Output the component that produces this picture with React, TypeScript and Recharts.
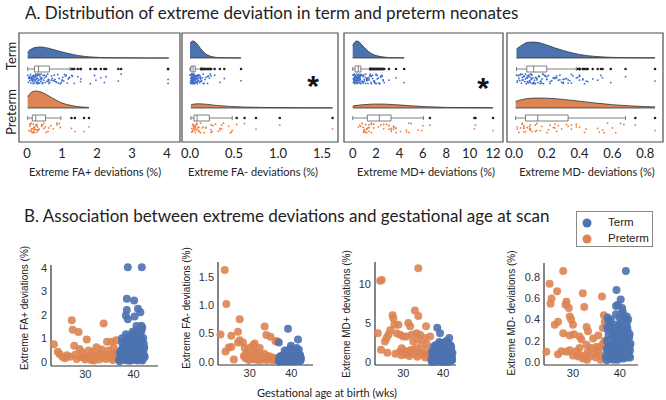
import React from "react";
import {
  ComposedChart,
  ScatterChart,
  Scatter,
  Area,
  XAxis,
  YAxis,
  ReferenceArea,
  ReferenceLine,
} from "recharts";

// ---- panel B data: [gestational age (wks), extreme deviations (%)] ----
const termFaPlus = [
  [37.1, 0.02], [39.3, 0.04], [40.8, 0.06], [38.2, 0.08], [41.5, 0.1], [39.9, 0.11], [37.6, 0.13], [40.3, 0.14],
  [42.0, 0.15], [38.7, 0.16], [41.1, 0.17], [39.5, 0.18], [37.9, 0.19], [40.6, 0.2], [41.8, 0.05],
  [38.4, 0.21], [40.1, 0.22], [41.3, 0.24], [37.4, 0.25], [39.1, 0.26], [42.2, 0.27], [38.9, 0.28], [40.5, 0.29],
  [41.7, 0.3], [37.8, 0.3], [39.7, 0.31], [40.9, 0.32], [38.1, 0.32], [41.4, 0.33], [39.2, 0.23],
  [37.3, 0.35], [40.2, 0.37], [41.9, 0.4], [38.6, 0.42], [39.8, 0.44], [41.0, 0.46], [37.7, 0.48], [40.7, 0.5],
  [39.4, 0.52], [42.1, 0.55], [38.3, 0.57], [40.4, 0.59], [41.6, 0.61], [39.0, 0.63], [37.5, 0.39],
  [40.0, 0.7], [41.2, 0.78], [38.8, 0.85], [40.6, 0.92], [41.5, 1.0], [39.6, 1.07], [40.9, 1.15], [41.3, 1.22],
  [37.6, 1.0], [41.6, 1.3], [40.6, 1.53], [41.6, 1.54], [38.8, 1.81], [40.2, 1.93], [38.4, 1.97], [41.4, 2.11],
  [38.6, 2.21], [40.9, 2.26], [40.1, 2.61], [38.6, 2.69], [38.8, 4.03], [41.7, 4.03],
  [37.0, 0.1], [37.3, 0.2], [37.5, 0.5], [37.8, 0.65], [38.0, 0.15], [38.1, 0.75], [38.3, 0.35], [38.5, 0.9],
  [38.7, 0.05], [38.9, 0.4], [39.0, 1.1], [39.2, 0.6], [39.4, 0.12], [39.5, 0.95], [39.7, 0.25], [39.9, 0.7],
  [40.0, 1.2], [40.1, 0.45], [40.3, 0.08], [40.4, 1.05], [40.5, 0.3], [40.7, 0.8], [40.8, 1.35], [41.0, 0.18],
  [41.1, 0.55], [41.2, 1.12], [41.4, 0.28], [41.5, 0.72], [41.6, 0.15], [41.7, 0.88], [41.9, 0.36], [42.0, 1.02],
  [42.2, 0.62], [42.3, 0.2], [37.6, 0.82], [38.4, 1.18], [39.3, 0.32], [39.8, 1.28], [40.2, 0.62], [40.9, 0.42],
  [41.3, 0.98], [41.8, 1.45], [42.1, 0.78], [37.2, 0.4], [38.9, 0.22],
];
const pretermFaPlus = [
  [23.5, 0.75], [24.3, 0.43], [24.7, 0.32], [25.3, 0.2], [25.8, 0.15], [26.2, 0.28], [26.8, 0.22], [27.2, 1.77],
  [27.4, 1.37], [27.7, 0.68], [27.9, 0.3], [28.2, 0.12], [28.6, 1.27], [28.8, 0.55], [29.1, 0.2], [29.3, 0.42],
  [29.7, 0.18], [30.0, 0.1], [30.3, 0.95], [30.5, 0.25], [30.7, 0.48], [31.0, 0.28], [31.2, 0.08], [31.4, 0.15],
  [31.7, 0.42], [32.0, 0.2], [32.3, 0.62], [32.6, 0.22], [32.9, 0.1], [33.1, 0.35], [33.4, 0.52], [33.8, 1.63],
  [34.1, 0.28], [34.3, 0.12], [34.5, 0.85], [34.8, 0.48], [35.0, 0.18], [35.2, 0.3], [35.5, 0.86], [35.7, 0.08],
  [35.9, 0.6], [36.1, 0.22], [36.2, 0.32], [36.4, 0.92], [36.6, 0.15], [36.7, 0.42], [36.9, 0.13], [36.8, 0.25],
  [31.8, 0.05], [33.6, 0.2],
];
const termFaMinus = [
  [37.2, 0.0], [39.5, 0.005], [40.8, 0.01], [38.3, 0.01], [41.6, 0.012], [39.9, 0.015], [37.7, 0.018], [40.4, 0.02],
  [42.0, 0.022], [38.8, 0.025], [41.2, 0.028], [39.3, 0.03], [38.0, 0.03], [40.6, 0.032], [41.8, 0.035],
  [38.5, 0.036], [40.1, 0.038], [41.4, 0.04], [37.4, 0.042], [39.1, 0.045], [42.2, 0.047], [38.9, 0.05], [40.5, 0.052],
  [41.7, 0.055], [37.9, 0.057], [39.7, 0.06], [40.9, 0.06], [38.2, 0.04], [41.0, 0.05], [39.6, 0.035],
  [37.5, 0.065], [40.2, 0.07], [41.9, 0.075], [38.6, 0.08], [39.8, 0.085], [41.1, 0.09], [37.8, 0.095], [40.7, 0.1],
  [39.4, 0.11], [42.1, 0.12], [38.4, 0.13], [40.3, 0.15], [41.5, 0.17], [39.0, 0.2], [40.8, 0.22], [41.3, 0.24],
  [39.9, 0.28], [37.0, 0.34], [41.6, 0.39], [39.2, 0.58],
  [37.0, 0.02], [37.3, 0.05], [37.5, 0.1], [37.8, 0.03], [38.0, 0.07], [38.1, 0.12], [38.3, 0.06], [38.5, 0.015],
  [38.7, 0.09], [38.9, 0.04], [39.0, 0.14], [39.2, 0.02], [39.4, 0.07], [39.5, 0.1], [39.7, 0.03], [39.9, 0.06],
  [40.0, 0.16], [40.1, 0.01], [40.3, 0.05], [40.4, 0.11], [40.5, 0.03], [40.7, 0.08], [40.8, 0.13], [41.0, 0.02],
  [41.1, 0.06], [41.2, 0.18], [41.4, 0.04], [41.5, 0.09], [41.6, 0.025], [41.7, 0.12], [41.9, 0.05], [42.0, 0.08],
  [42.2, 0.02], [42.3, 0.06], [37.6, 0.04], [38.4, 0.2], [39.3, 0.09], [39.8, 0.23], [40.2, 0.04], [40.9, 0.15],
  [41.3, 0.07], [41.8, 0.21], [42.1, 0.1], [37.2, 0.08], [38.9, 0.12],
];
const pretermFaMinus = [
  [24.0, 1.62], [24.4, 1.02], [23.0, 0.48], [24.2, 0.18], [25.6, 0.46], [27.2, 0.53], [27.6, 0.75], [26.2, 0.04],
  [25.0, 0.25], [25.6, 0.26], [27.2, 0.34], [27.6, 0.38], [28.4, 0.34], [28.8, 0.24], [29.2, 0.15], [30.0, 0.24],
  [30.8, 0.29], [31.2, 0.32], [31.6, 0.18], [32.4, 0.24], [33.6, 0.62], [34.0, 0.47], [35.0, 0.44], [36.2, 0.36],
  [36.6, 0.36], [28.6, 0.1], [29.0, 0.06], [29.5, 0.12], [29.8, 0.03], [30.2, 0.08], [30.5, 0.05], [30.9, 0.1],
  [31.3, 0.04], [31.8, 0.07], [32.0, 0.12], [32.3, 0.02], [32.7, 0.06], [33.0, 0.09], [33.3, 0.04], [33.8, 0.07],
  [34.2, 0.03], [34.5, 0.1], [34.9, 0.05], [35.3, 0.08], [35.6, 0.02], [35.9, 0.06], [36.3, 0.04], [36.8, 0.07],
  [37.0, 0.03], [33.5, 0.14], [31.0, 0.16],
];
const termMdPlus = [
  [37.2, 0.02], [39.5, 0.05], [40.8, 0.08], [38.3, 0.1], [41.6, 0.12], [39.9, 0.14], [37.7, 0.15], [40.4, 0.17],
  [42.0, 0.18], [38.8, 0.19], [41.2, 0.06], [39.3, 0.2], [38.0, 0.22], [40.6, 0.25], [41.8, 0.28], [38.5, 0.3],
  [40.1, 0.32], [41.4, 0.34], [37.4, 0.36], [39.1, 0.38], [42.2, 0.4], [38.9, 0.42], [40.5, 0.44], [41.7, 0.46],
  [37.9, 0.48], [39.7, 0.5], [40.9, 0.52], [38.2, 0.54], [41.0, 0.56], [39.6, 0.58], [37.5, 0.6], [40.2, 0.62],
  [41.9, 0.64], [38.6, 0.66], [39.8, 0.68], [41.1, 0.7], [37.8, 0.55], [40.7, 0.6], [39.4, 0.8], [42.1, 0.9],
  [38.4, 1.0], [40.3, 1.1], [41.5, 1.2], [39.0, 1.3], [40.8, 1.4], [41.3, 1.45], [38.7, 0.95],
  [39.9, 1.55], [41.6, 1.7], [38.1, 1.85], [40.0, 2.0], [41.4, 2.2], [39.2, 2.4], [40.6, 2.6], [38.3, 1.6],
  [40.9, 1.8], [41.9, 2.1], [39.5, 2.3], [41.0, 2.5], [41.5, 3.1], [39.2, 3.7], [38.5, 4.4],
  [37.0, 0.3], [37.3, 0.8], [37.5, 1.5], [37.8, 0.1], [38.0, 1.1], [38.1, 2.2], [38.3, 0.5], [38.5, 1.7],
  [38.7, 0.2], [38.9, 1.2], [39.0, 2.6], [39.2, 0.7], [39.4, 1.9], [39.5, 0.3], [39.7, 1.4], [39.9, 2.4],
  [40.0, 0.9], [40.1, 0.1], [40.3, 1.6], [40.4, 2.1], [40.5, 0.4], [40.7, 1.3], [40.8, 2.7], [41.0, 0.6],
  [41.1, 1.8], [41.2, 0.15], [41.4, 1.0], [41.5, 2.3], [41.6, 0.5], [41.7, 1.5], [41.9, 0.8], [42.0, 1.9],
  [42.2, 0.3], [42.3, 1.2], [37.6, 2.0], [38.4, 0.9], [39.3, 1.1], [39.8, 0.6], [40.2, 2.5], [40.9, 0.35],
  [41.3, 1.25], [41.8, 2.0], [42.1, 0.7], [37.2, 1.3], [38.9, 0.45],
];
const pretermMdPlus = [
  [24.2, 10.4], [24.6, 10.5], [33.75, 12.0], [23.6, 3.7], [24.4, 1.6], [25.4, 2.65], [25.8, 3.1], [26.25, 3.5],
  [26.7, 4.1], [27.3, 6.0], [27.5, 5.6], [27.75, 4.8], [28.3, 3.7], [28.75, 4.8], [29.2, 3.5], [29.2, 1.4],
  [29.6, 1.8], [30.0, 3.3], [30.4, 1.4], [30.8, 3.3], [31.25, 5.0], [31.7, 4.6], [32.1, 3.5], [32.5, 2.65],
  [32.9, 6.6], [33.75, 5.9], [33.2, 1.8], [33.3, 3.7], [33.75, 2.9], [34.2, 3.5], [34.6, 2.2], [35.0, 0.94],
  [35.4, 3.1], [35.7, 4.6], [36.0, 1.6], [36.7, 3.3], [36.7, 0.94], [37.1, 0.5], [35.8, 2.4], [32.1, 1.6],
  [31.25, 1.4], [29.5, 0.9], [30.5, 1.0], [31.5, 0.8], [32.5, 1.1], [33.5, 0.7], [34.5, 1.2], [35.5, 0.6],
  [36.3, 1.0], [34.0, 1.3], [31.0, 1.2], [28.0, 1.1], [26.0, 1.2],
];
const termMdMinus = [
  [37.2, 0.015], [39.5, 0.02], [40.8, 0.03], [38.3, 0.035], [41.6, 0.04], [39.9, 0.045], [37.7, 0.05], [40.4, 0.055],
  [42.0, 0.06], [38.8, 0.065], [41.2, 0.07], [39.3, 0.075], [38.0, 0.025], [40.6, 0.05],
  [41.8, 0.08], [38.5, 0.085], [40.1, 0.09], [41.4, 0.095], [37.4, 0.1], [39.1, 0.105], [42.2, 0.11], [38.9, 0.115],
  [40.5, 0.08], [41.7, 0.09], [37.9, 0.1], [39.7, 0.11], [40.9, 0.095], [38.2, 0.105],
  [41.0, 0.12], [39.6, 0.13], [37.5, 0.14], [40.2, 0.15], [41.9, 0.16], [38.6, 0.17], [39.8, 0.18], [41.1, 0.19],
  [37.8, 0.125], [40.7, 0.135], [39.4, 0.145], [42.1, 0.155], [38.4, 0.165], [40.3, 0.175],
  [41.5, 0.2], [39.0, 0.22], [40.8, 0.24], [41.3, 0.26], [38.7, 0.28], [39.9, 0.3], [41.6, 0.32], [38.1, 0.34],
  [40.0, 0.35], [37.3, 0.33], [37.6, 0.39], [37.4, 0.42], [41.4, 0.4], [39.2, 0.45], [40.6, 0.48], [41.5, 0.43],
  [39.2, 0.53], [40.5, 0.51], [39.6, 0.54], [40.2, 0.59], [39.3, 0.68], [41.3, 0.86],
  [37.0, 0.05], [37.3, 0.2], [37.5, 0.3], [37.8, 0.08], [38.0, 0.15], [38.1, 0.4], [38.3, 0.12], [38.5, 0.25],
  [38.7, 0.02], [38.9, 0.18], [39.0, 0.35], [39.2, 0.1], [39.4, 0.28], [39.5, 0.06], [39.7, 0.22], [39.9, 0.42],
  [40.0, 0.13], [40.1, 0.03], [40.3, 0.27], [40.4, 0.38], [40.5, 0.09], [40.7, 0.2], [40.8, 0.44], [41.0, 0.07],
  [41.1, 0.3], [41.2, 0.16], [41.4, 0.24], [41.5, 0.36], [41.6, 0.11], [41.7, 0.29], [41.9, 0.14], [42.0, 0.23],
  [42.2, 0.04], [42.3, 0.17], [37.6, 0.25], [38.4, 0.33], [39.3, 0.19], [39.8, 0.08], [40.2, 0.31], [40.9, 0.12],
  [41.3, 0.21], [41.8, 0.4], [42.1, 0.26], [37.2, 0.12], [38.9, 0.06],
];
const pretermMdMinus = [
  [24.3, 0.095], [25.0, 0.74], [27.9, 0.86], [25.4, 0.6], [25.2, 0.55], [26.6, 0.67], [26.1, 0.35], [26.8, 0.38],
  [26.8, 0.07], [27.9, 0.27], [28.4, 0.54], [28.6, 0.57], [29.1, 0.51], [29.3, 0.43], [29.6, 0.4], [30.0, 0.35],
  [29.3, 0.25], [30.2, 0.26], [31.4, 0.24], [31.8, 0.21], [32.1, 0.65], [32.4, 0.52], [32.9, 0.33], [33.2, 0.29],
  [34.3, 0.22], [35.0, 0.14], [35.4, 0.25], [36.2, 0.62], [36.4, 0.32], [36.6, 0.44], [28.6, 0.095], [29.3, 0.11],
  [30.0, 0.06], [30.7, 0.1], [31.1, 0.05], [31.6, 0.06], [32.1, 0.03], [32.5, 0.06], [33.2, 0.1], [33.6, 0.05],
  [33.9, 0.13], [34.6, 0.08], [35.4, 0.1], [35.7, 0.14], [36.1, 0.06], [36.4, 0.17], [27.5, 0.1], [31.4, 0.13],
  [32.9, 0.16], [34.9, 0.04], [36.8, 0.2], [36.8, 0.38], [35.9, 0.02], [33.0, 0.02],
];

// ---- panel A: density curves [value, density (a.u.)] ----
const termFaPlusDensity = [[0.02, 6], [0.1, 8.5], [0.2, 10.2], [0.37, 11], [0.5, 10.6], [0.7, 9], [0.9, 7], [1.1, 5.2], [1.3, 3.6], [1.5, 2.3], [1.8, 1.1], [2.1, 0.5], [2.5, 0.25], [3.0, 0.1], [3.5, 0.05], [4.05, 0.05]];
const pretermFaPlusDensity = [[0.02, 11], [0.1, 15], [0.25, 17], [0.4, 16], [0.55, 13.5], [0.7, 10.5], [0.85, 7.5], [1.0, 5], [1.2, 3], [1.4, 1.6], [1.6, 0.9], [1.77, 0.6]];
const termFaMinusDensity = [[0.0, 15], [0.03, 17], [0.06, 16], [0.09, 13], [0.12, 9.5], [0.15, 6.5], [0.18, 4], [0.22, 2.2], [0.27, 1], [0.33, 0.4], [0.45, 0.15], [0.58, 0.1]];
const pretermFaMinusDensity = [[0.01, 3], [0.05, 4], [0.1, 4.2], [0.2, 3.6], [0.3, 2.6], [0.45, 1.6], [0.6, 1], [0.8, 0.6], [1.0, 0.4], [1.3, 0.25], [1.62, 0.2]];
const termMdPlusDensity = [[0, 12], [0.15, 15.5], [0.35, 17], [0.55, 16], [0.8, 13], [1.2, 8], [1.6, 4.5], [2.0, 2.5], [2.5, 1.2], [3.0, 0.5], [3.5, 0.3], [4.4, 0.2]];
const pretermMdPlusDensity = [[0, 2], [1, 3.4], [2.3, 4], [3.5, 3.4], [5, 2.2], [6.5, 1.2], [8, 0.6], [10, 0.4], [12, 0.3]];
const termMdMinusDensity = [[0.015, 9], [0.05, 13], [0.08, 15.5], [0.12, 16], [0.16, 15], [0.2, 13], [0.25, 10], [0.3, 7.5], [0.35, 5.3], [0.4, 3.5], [0.45, 2.3], [0.5, 1.5], [0.6, 0.6], [0.7, 0.3], [0.86, 0.2]];
const pretermMdMinusDensity = [[0.01, 6.5], [0.05, 8.5], [0.1, 9.7], [0.15, 10], [0.2, 9.8], [0.3, 8.6], [0.4, 6.8], [0.5, 4.9], [0.6, 3.3], [0.7, 2.2], [0.8, 1.4], [0.86, 1.1]];

// boxplot stats: [whisker low, Q1, median, Q3, whisker high]
const termFaPlusBox = [0.02, 0.21, 0.33, 0.64, 1.23];
const pretermFaPlusBox = [0.02, 0.15, 0.25, 0.53, 0.97];
const termFaMinusBox = [0.0, 0.01, 0.035, 0.06, 0.125];
const pretermFaMinusBox = [0.01, 0.045, 0.08, 0.22, 0.48];
const termMdPlusBox = [0.0, 0.2, 0.48, 0.7, 1.48];
const pretermMdPlusBox = [0.0, 1.25, 2.28, 3.28, 6.05];
const termMdMinusBox = [0.015, 0.078, 0.12, 0.2, 0.38];
const pretermMdMinusBox = [0.01, 0.07, 0.145, 0.33, 0.68];

// rain jitter (fraction of the band height)
const jitter = [0.12, 0.83, 0.45, 0.67, 0.05, 0.91, 0.33, 0.58, 0.22, 0.76, 0.49, 0.97, 0.15, 0.62, 0.38, 0.86, 0.27, 0.71, 0.02, 0.54, 0.94, 0.41, 0.19];

const faPlusTicks = [0, 1, 2, 3, 4];
const faMinusTicks = [0, 0.5, 1, 1.5];
const mdPlusTicks = [0, 2, 4, 6, 8, 10, 12];
const mdMinusTicks = [0, 0.2, 0.4, 0.6, 0.8];
const gaTicks = [30, 40];

const BLUE = "#4c72b0";
const ORANGE = "#dd8452";
const RAIN_BLUE = "#3d6cc9";
const RAIN_ORANGE = "#ee7a3c";
const CAL = "Lato, 'Open Sans', sans-serif";
const ARIAL = "'Liberation Sans', Arial, sans-serif";

const FRAME_TOP = 33;
const FRAME_H = 109;
const TERM_BASE = 25;
const TERM_BOX = 36;
const PRE_BASE = 75;
const PRE_BOX = 85;
const BOX_HALF = 3;

const fmt1 = (v: number) => v.toFixed(1);
const fmt0 = (v: number) => String(v);

const dot = (r: number, color: string, opacity = 1) => (p: any) =>
  <circle cx={p.cx} cy={p.cy} r={r} fill={color} fillOpacity={opacity} />;

type Pair = number[];

interface RaincloudProps {
  left: number;
  width: number;
  domain: [number, number];
  ticks: number[];
  fmt: (v: number) => string;
  termDensity: Pair[];
  pretermDensity: Pair[];
  term: Pair[];
  preterm: Pair[];
  termBox: number[];
  pretermBox: number[];
}

const BoxPlot = ({ stats, c }: { stats: number[]; c: number }) => {
  const [lo, q1, med, q3, hi] = stats;
  const s = "#5f5f5f";
  return (
    <>
      <ReferenceLine segment={[{ x: lo, y: c }, { x: q1, y: c }]} stroke={s} strokeWidth={0.8} />
      <ReferenceLine segment={[{ x: q3, y: c }, { x: hi, y: c }]} stroke={s} strokeWidth={0.8} />
      <ReferenceLine segment={[{ x: lo, y: c - 2 }, { x: lo, y: c + 2 }]} stroke={s} strokeWidth={0.8} />
      <ReferenceLine segment={[{ x: hi, y: c - 2 }, { x: hi, y: c + 2 }]} stroke={s} strokeWidth={0.8} />
      <ReferenceArea x1={q1} x2={q3} y1={c - BOX_HALF} y2={c + BOX_HALF} fill="#ffffff" fillOpacity={1} stroke={s} strokeWidth={0.8} />
      <ReferenceLine segment={[{ x: med, y: c - BOX_HALF }, { x: med, y: c + BOX_HALF }]} stroke={s} strokeWidth={0.8} />
    </>
  );
};

const Raincloud = (p: RaincloudProps) => {
  const termArea = p.termDensity.map(([x, d]) => ({ x, y: [TERM_BASE - d, TERM_BASE] }));
  const preArea = p.pretermDensity.map(([x, d]) => ({ x, y: [PRE_BASE - d, PRE_BASE] }));
  const termVals = p.term.map((t) => t[1]);
  const preVals = p.preterm.map((t) => t[1]);
  const termRain = termVals.map((v, i) => ({ x: v, y: TERM_BOX + 5 + jitter[i % jitter.length] * 10 }));
  const preRain = preVals.map((v, i) => ({ x: v, y: PRE_BOX + 5 + jitter[(i + 7) % jitter.length] * 10 }));
  const termOut = termVals.filter((v) => v > p.termBox[4]).map((v) => ({ x: v, y: TERM_BOX }));
  const preOut = preVals.filter((v) => v > p.pretermBox[4]).map((v) => ({ x: v, y: PRE_BOX }));
  const h = FRAME_H + 30;
  return (
    <div style={{ position: "absolute", left: p.left, top: FRAME_TOP, width: p.width, height: h }}>
      <ComposedChart width={p.width} height={h} margin={{ top: 0, right: 0, bottom: 0, left: 0 }}>
        <XAxis
          type="number"
          dataKey="x"
          domain={p.domain}
          ticks={p.ticks}
          tickFormatter={p.fmt}
          interval={0}
          axisLine={false}
          tickLine={false}
          tickSize={2}
          tickMargin={5}
          height={30}
          tick={{ fontSize: 13, fill: "#222", fontFamily: CAL }}
        />
        <YAxis type="number" dataKey="y" hide reversed domain={[0, FRAME_H]} />
        <ReferenceArea x1={p.domain[0]} x2={p.domain[1]} y1={0} y2={FRAME_H} fill="none" stroke="#4d4d4d" strokeWidth={1.2} />
        <Area data={termArea} dataKey="y" type="monotone" fill={BLUE} fillOpacity={1} stroke="#333" strokeWidth={0.8} dot={false} activeDot={false} isAnimationActive={false} />
        <Area data={preArea} dataKey="y" type="monotone" fill={ORANGE} fillOpacity={1} stroke="#333" strokeWidth={0.8} dot={false} activeDot={false} isAnimationActive={false} />
        {BoxPlot({ stats: p.termBox, c: TERM_BOX })}
        {BoxPlot({ stats: p.pretermBox, c: PRE_BOX })}
        <Scatter data={termRain} shape={dot(0.9, RAIN_BLUE)} isAnimationActive={false} />
        <Scatter data={preRain} shape={dot(0.9, RAIN_ORANGE)} isAnimationActive={false} />
        <Scatter data={termOut} shape={dot(1.3, "#222")} isAnimationActive={false} />
        <Scatter data={preOut} shape={dot(1.3, "#222")} isAnimationActive={false} />
      </ComposedChart>
    </div>
  );
};

interface GaScatterProps {
  plotLeft: number;
  plotTop: number;
  plotW: number;
  plotH: number;
  xDomain: [number, number];
  yDomain: [number, number];
  yTicks: number[];
  fmt: (v: number) => string;
  term: Pair[];
  preterm: Pair[];
}

const Y_W = 30;

const GaScatter = (p: GaScatterProps) => {
  const term = p.term.map(([ga, v]) => ({ ga, v }));
  const pre = p.preterm.map(([ga, v]) => ({ ga, v }));
  return (
    <div style={{ position: "absolute", left: p.plotLeft - Y_W, top: p.plotTop }}>
      <ScatterChart width={p.plotW + Y_W + 4} height={p.plotH + 22} margin={{ top: 0, right: 4, bottom: 0, left: 0 }}>
        <XAxis
          type="number"
          dataKey="ga"
          domain={p.xDomain}
          ticks={gaTicks}
          interval={0}
          axisLine={{ stroke: "#333", strokeWidth: 1.2 }}
          tickLine={false}
          tickSize={2}
          height={22}
          tick={{ fontSize: 11, fill: "#333", fontFamily: ARIAL }}
        />
        <YAxis
          type="number"
          dataKey="v"
          domain={p.yDomain}
          ticks={p.yTicks}
          tickFormatter={p.fmt}
          interval={0}
          axisLine={{ stroke: "#333", strokeWidth: 1.2 }}
          tickLine={false}
          tickSize={2}
          width={Y_W}
          tick={{ fontSize: 11, fill: "#333", fontFamily: ARIAL }}
        />
        <Scatter data={pre} shape={dot(4, ORANGE, 0.9)} isAnimationActive={false} />
        <Scatter data={term} shape={dot(4, BLUE, 0.9)} isAnimationActive={false} />
      </ScatterChart>
    </div>
  );
};

const Text = ({ cx, cy, rotate = 0, style, children }: any) => (
  <div
    style={{
      position: "absolute",
      left: cx,
      top: cy,
      transform: `translate(-50%, -50%) rotate(${rotate}deg)`,
      whiteSpace: "nowrap",
      lineHeight: 1,
      ...style,
    }}
  >
    {children}
  </div>
);

const titleStyle = { fontFamily: CAL, fontSize: 17, color: "#222" };
const axisStyle = { fontFamily: CAL, fontSize: 11, color: "#222" };
const yLabStyle = { fontFamily: ARIAL, fontSize: 10, color: "#222" };
const starStyle = { fontFamily: ARIAL, fontSize: 30, fontWeight: 700, color: "#111" };
const groupStyle = { fontFamily: CAL, fontSize: 13, color: "#222" };

export default function App() {
  return (
    <div style={{ position: "absolute", left: 0, top: 0, width: 666, height: 400, background: "#fff", overflow: "hidden" }}>
      <style>{".recharts-surface, .recharts-wrapper { overflow: visible !important; }"}</style>
      <div style={{ position: "absolute", left: 25, top: 2, whiteSpace: "nowrap", ...titleStyle }}>
        A. Distribution of extreme deviation in term and preterm neonates
      </div>
      <Text cx={11} cy={56} rotate={-90} style={groupStyle}>Term</Text>
      <Text cx={11} cy={112} rotate={-90} style={groupStyle}>Preterm</Text>

      <Raincloud left={19} width={161} domain={[-0.2286, 4.371]} ticks={faPlusTicks} fmt={fmt0}
        termDensity={termFaPlusDensity} pretermDensity={pretermFaPlusDensity}
        term={termFaPlus} preterm={pretermFaPlus} termBox={termFaPlusBox} pretermBox={pretermFaPlusBox} />
      <Raincloud left={182} width={156} domain={[-0.0909, 1.682]} ticks={faMinusTicks} fmt={fmt1}
        termDensity={termFaMinusDensity} pretermDensity={pretermFaMinusDensity}
        term={termFaMinus} preterm={pretermFaMinus} termBox={termFaMinusBox} pretermBox={pretermFaMinusBox} />
      <Raincloud left={344} width={159} domain={[-0.744, 12.85]} ticks={mdPlusTicks} fmt={fmt0}
        termDensity={termMdPlusDensity} pretermDensity={pretermMdPlusDensity}
        term={termMdPlus} preterm={pretermMdPlus} termBox={termMdPlusBox} pretermBox={pretermMdPlusBox} />
      <Raincloud left={507} width={156} domain={[-0.0427, 0.9085]} ticks={mdMinusTicks} fmt={fmt1}
        termDensity={termMdMinusDensity} pretermDensity={pretermMdMinusDensity}
        term={termMdMinus} preterm={pretermMdMinus} termBox={termMdMinusBox} pretermBox={pretermMdMinusBox} />

      <Text cx={313} cy={86} style={starStyle}>*</Text>
      <Text cx={483} cy={88} style={starStyle}>*</Text>

      <Text cx={95} cy={171} style={axisStyle}>Extreme FA+ deviations (%)</Text>
      <Text cx={253} cy={171} style={axisStyle}>Extreme FA- deviations (%)</Text>
      <Text cx={426} cy={171} style={axisStyle}>Extreme MD+ deviations (%)</Text>
      <Text cx={587} cy={171} style={axisStyle}>Extreme MD- deviations (%)</Text>

      <div style={{ position: "absolute", left: 24, top: 205, whiteSpace: "nowrap", ...titleStyle }}>
        B. Association between extreme deviations and gestational age at scan
      </div>

      <div style={{ position: "absolute", left: 576, top: 211, width: 77, height: 36, border: "1px solid #888", boxSizing: "border-box" }} />
      <svg style={{ position: "absolute", left: 576, top: 211 }} width={20} height={36}>
        <circle cx={11} cy={12} r={4.5} fill={BLUE} />
        <circle cx={11} cy={28} r={4.5} fill={ORANGE} />
      </svg>
      <div style={{ position: "absolute", left: 608, top: 217, fontFamily: ARIAL, fontSize: 11.5, color: "#222", lineHeight: 1 }}>Term</div>
      <div style={{ position: "absolute", left: 608, top: 233, fontFamily: ARIAL, fontSize: 11.5, color: "#222", lineHeight: 1 }}>Preterm</div>

      <GaScatter plotLeft={51} plotTop={265} plotW={107} plotH={101} xDomain={[22.9, 45.05]} yDomain={[-0.18, 4.13]}
        yTicks={[0, 1, 2, 3, 4]} fmt={fmt0} term={termFaPlus} preterm={pretermFaPlus} />
      <GaScatter plotLeft={218} plotTop={262} plotW={95} plotH={103} xDomain={[22.4, 45.2]} yDomain={[-0.058, 1.76]}
        yTicks={[0, 0.5, 1, 1.5]} fmt={fmt1} term={termFaMinus} preterm={pretermFaMinus} />
      <GaScatter plotLeft={375} plotTop={262} plotW={81} plotH={103} xDomain={[22.9, 43.2]} yDomain={[-0.35, 12.8]}
        yTicks={[0, 5, 10]} fmt={fmt0} term={termMdPlus} preterm={pretermMdPlus} />
      <GaScatter plotLeft={544} plotTop={263} plotW={94} plotH={102} xDomain={[23.8, 43.9]} yDomain={[-0.031, 0.937]}
        yTicks={[0, 0.2, 0.4, 0.6, 0.8]} fmt={fmt1} term={termMdMinus} preterm={pretermMdMinus} />

      <Text cx={25} cy={308} rotate={-90} style={yLabStyle}>Extreme FA+ deviations (%)</Text>
      <Text cx={187} cy={308} rotate={-90} style={yLabStyle}>Extreme FA- deviations (%)</Text>
      <Text cx={347} cy={314} rotate={-90} style={yLabStyle}>Extreme MD+ deviations (%)</Text>
      <Text cx={512} cy={313} rotate={-90} style={yLabStyle}>Extreme MD- deviations (%)</Text>

      <Text cx={327} cy={392} style={axisStyle}>Gestational age at birth (wks)</Text>
    </div>
  );
}
